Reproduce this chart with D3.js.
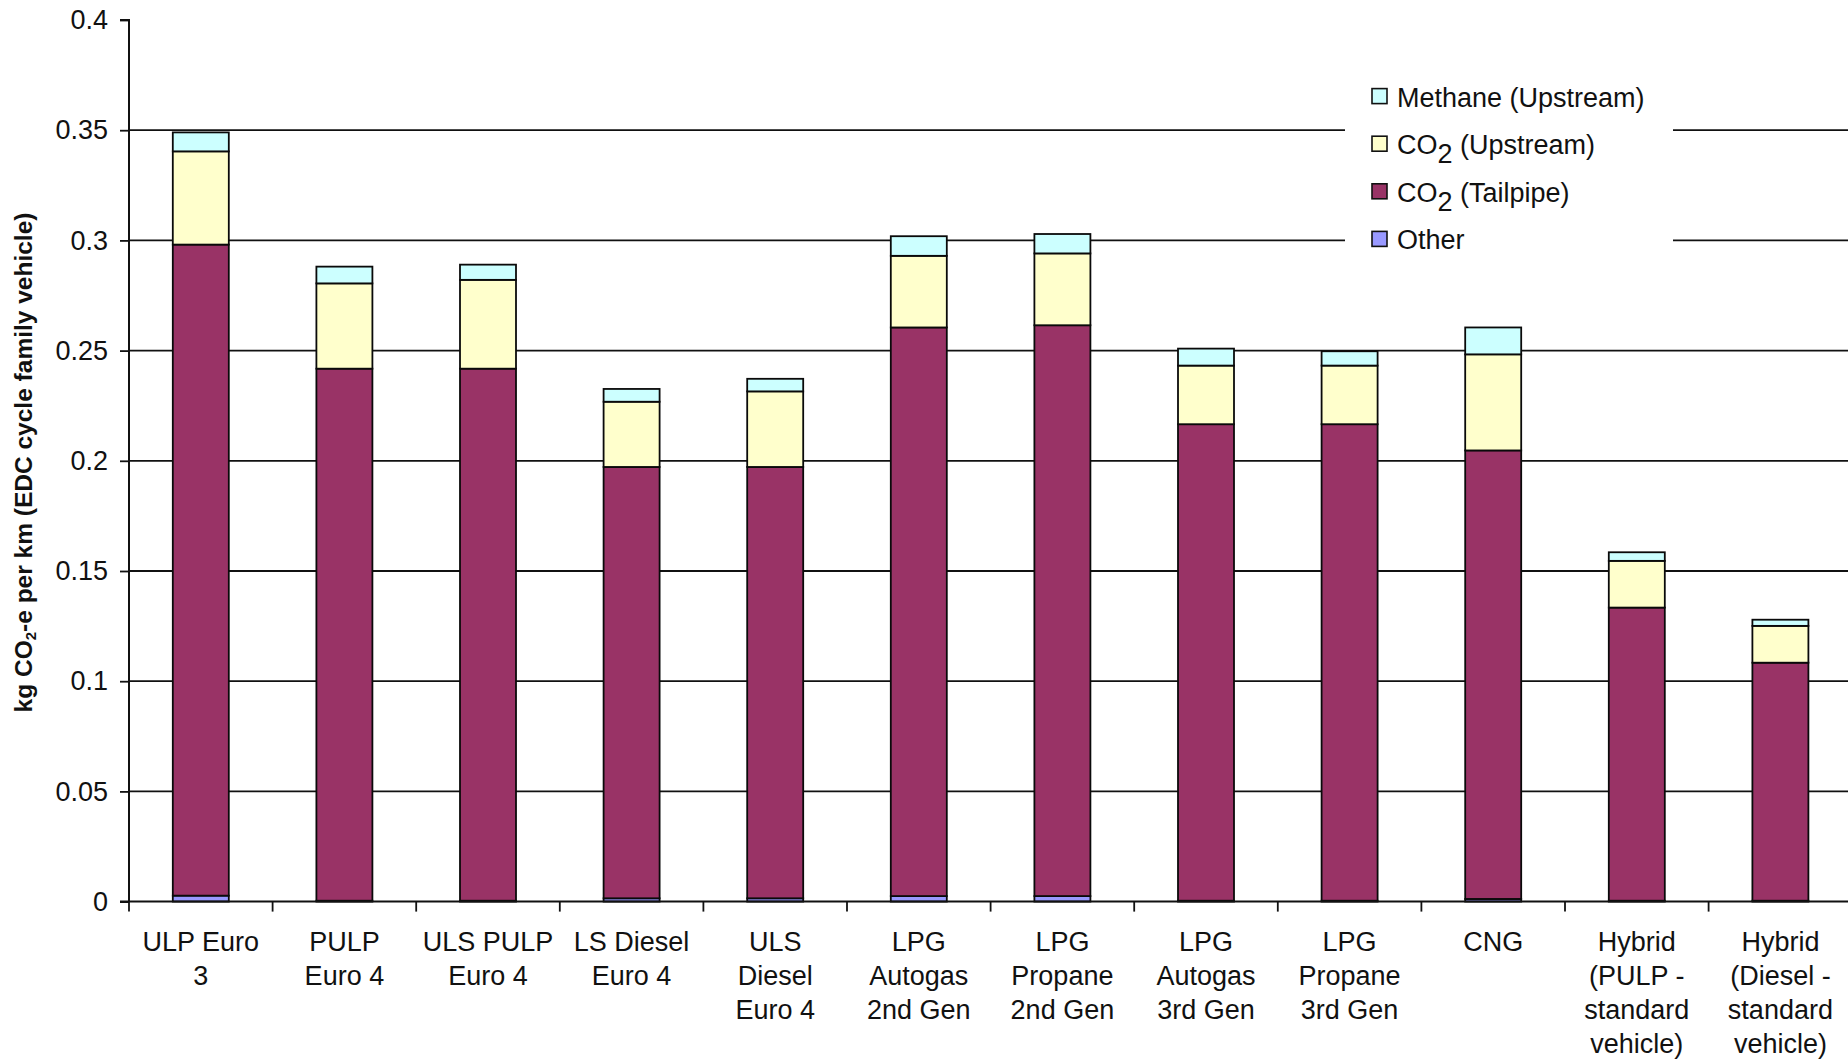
<!DOCTYPE html>
<html>
<head>
<meta charset="utf-8">
<script src="https://cdn.jsdelivr.net/npm/d3@7"></script>
<style>
  html, body { margin: 0; padding: 0; background: #fff; overflow: hidden; }
  svg { display: block; }
  text { font-family: "Liberation Sans", Arial, sans-serif; fill: #111; }
</style>
</head>
<body>
<svg id="chart" width="1848" height="1060"></svg>
<script>
// ---- Data ----
const categories = [
  ["ULP Euro", "3"],
  ["PULP", "Euro 4"],
  ["ULS PULP", "Euro 4"],
  ["LS Diesel", "Euro 4"],
  ["ULS", "Diesel", "Euro 4"],
  ["LPG", "Autogas", "2nd Gen"],
  ["LPG", "Propane", "2nd Gen"],
  ["LPG", "Autogas", "3rd Gen"],
  ["LPG", "Propane", "3rd Gen"],
  ["CNG"],
  ["Hybrid", "(PULP -", "standard", "vehicle)"],
  ["Hybrid", "(Diesel -", "standard", "vehicle)"]
];
const other      = [0.0027, 0.0004, 0.0004, 0.0015, 0.0015, 0.0025, 0.0025, 0.0004, 0.0004, 0.0012, 0.0004, 0.0004];
const co2Tail    = [0.2954, 0.2414, 0.2414, 0.1957, 0.1957, 0.2580, 0.2590, 0.2162, 0.2162, 0.2035, 0.1330, 0.1080];
const co2Up      = [0.0423, 0.0387, 0.0403, 0.0296, 0.0343, 0.0325, 0.0326, 0.0266, 0.0266, 0.0436, 0.0212, 0.0167];
const methaneUp  = [0.0086, 0.0076, 0.0069, 0.0058, 0.0057, 0.0089, 0.0088, 0.0077, 0.0065, 0.0122, 0.0039, 0.0028];
const yTicks = [0, 0.05, 0.1, 0.15, 0.2, 0.25, 0.3, 0.35, 0.4];
const yTickLabels = ["0", "0.05", "0.1", "0.15", "0.2", "0.25", "0.3", "0.35", "0.4"];
const seriesKeys = ["other", "co2Tail", "co2Up", "methaneUp"];
const seriesColors = { other: "#9999FF", co2Tail: "#993366", co2Up: "#FFFFCC", methaneUp: "#CCFFFF" };
// legend: [key, main text, subscript, rest]
const legendItems = [
  ["methaneUp", "Methane (Upstream)", "", ""],
  ["co2Up", "CO", "2", " (Upstream)"],
  ["co2Tail", "CO", "2", " (Tailpipe)"],
  ["other", "Other", "", ""]
];

// ---- Layout ----
const svg = d3.select("#chart");
const x0 = 129, x1 = 1852.2, yTop = 20, yBot = 901.6;

const table = categories.map((c, i) => ({
  idx: i,
  other: other[i], co2Tail: co2Tail[i], co2Up: co2Up[i], methaneUp: methaneUp[i]
}));

const x = d3.scaleBand().domain(d3.range(categories.length)).range([x0, x1]).padding(0);
const y = d3.scaleLinear().domain([0, 0.4]).range([yBot, yTop]);
const barW = x.bandwidth() * 0.39;

// Gridlines
svg.append("g").selectAll("line")
  .data(yTicks.filter(t => t > 0 && t < 0.4))
  .join("line")
  .attr("x1", x0).attr("x2", 1848)
  .attr("y1", d => y(d)).attr("y2", d => y(d))
  .attr("stroke", "#111").attr("stroke-width", 1.8);

// Stacked bars
const stack = d3.stack().keys(seriesKeys)(table);
svg.append("g").selectAll("g")
  .data(stack)
  .join("g")
  .attr("fill", d => seriesColors[d.key])
  .selectAll("rect")
  .data(d => d)
  .join("rect")
  .attr("x", d => x(d.data.idx) + (x.bandwidth() - barW) / 2)
  .attr("width", barW)
  .attr("y", d => y(d[1]))
  .attr("height", d => Math.max(0.5, y(d[0]) - y(d[1])))
  .attr("stroke", "#0a0a0a")
  .attr("stroke-width", 1.8);

// Y axis
const yAxis = d3.axisLeft(y).tickValues(yTicks).tickSize(9)
  .tickFormat((d, i) => yTickLabels[i]);
const gy = svg.append("g").attr("transform", `translate(${x0},0)`).call(yAxis);
gy.select(".domain").attr("stroke", "#111").attr("stroke-width", 2)
  .attr("d", `M-9,${yTop}H0V${yBot}`);
gy.selectAll(".tick line").attr("stroke", "#111").attr("stroke-width", 1.8);
gy.selectAll(".tick text")
  .attr("x", -21)
  .style("font-size", "27px")
  .style("font-family", "'Liberation Sans', Arial, sans-serif")
  .attr("fill", "#111");

// X axis
const gx = svg.append("g").attr("transform", `translate(0,${yBot})`);
gx.append("line").attr("x1", x0 - 9).attr("x2", 1848).attr("y1", 0).attr("y2", 0)
  .attr("stroke", "#111").attr("stroke-width", 2);
gx.selectAll("line.tk")
  .data(d3.range(categories.length + 1))
  .join("line").attr("class", "tk")
  .attr("x1", d => x0 + d * x.step()).attr("x2", d => x0 + d * x.step())
  .attr("y1", 0).attr("y2", 10)
  .attr("stroke", "#111").attr("stroke-width", 1.8);
const lab = gx.selectAll("text.lab")
  .data(categories)
  .join("text").attr("class", "lab")
  .attr("text-anchor", "middle")
  .style("font-size", "27px")
  .attr("transform", (d, i) => `translate(${x(i) + x.bandwidth() / 2},0)`);
lab.selectAll("tspan")
  .data(d => d)
  .join("tspan")
  .attr("x", 0)
  .attr("y", (d, j) => 49 + j * 34.3)
  .text(d => d);

// Y title
const yt = svg.append("text")
  .attr("transform", "translate(32,462.5) rotate(-90)")
  .attr("text-anchor", "middle")
  .style("font-size", "24.5px")
  .style("font-weight", "bold");
yt.append("tspan").text("kg CO");
yt.append("tspan").text("2").style("font-size", "15px").attr("dy", 4);
yt.append("tspan").text("-e per km (EDC cycle family vehicle)").attr("dy", -4);

// Legend
const lg = svg.append("g");
lg.append("rect").attr("x", 1345).attr("y", 68).attr("width", 328).attr("height", 196).attr("fill", "#fff");
const li = lg.selectAll("g.li").data(legendItems).join("g").attr("class", "li")
  .attr("transform", (d, i) => `translate(1372,${96.6 + i * 47.6})`);
li.append("rect").attr("x", 0).attr("y", -8).attr("width", 15).attr("height", 15)
  .attr("fill", d => seriesColors[d[0]]).attr("stroke", "#111").attr("stroke-width", 1.6);
const lt = li.append("text").attr("x", 25).attr("y", 10).style("font-size", "27px");
lt.append("tspan").text(d => d[1]);
lt.append("tspan").text(d => d[2]).attr("dy", d => d[2] ? 9 : 0);
lt.append("tspan").text(d => d[3]).attr("dy", d => d[2] ? -9 : 0);
</script>
</body>
</html>
